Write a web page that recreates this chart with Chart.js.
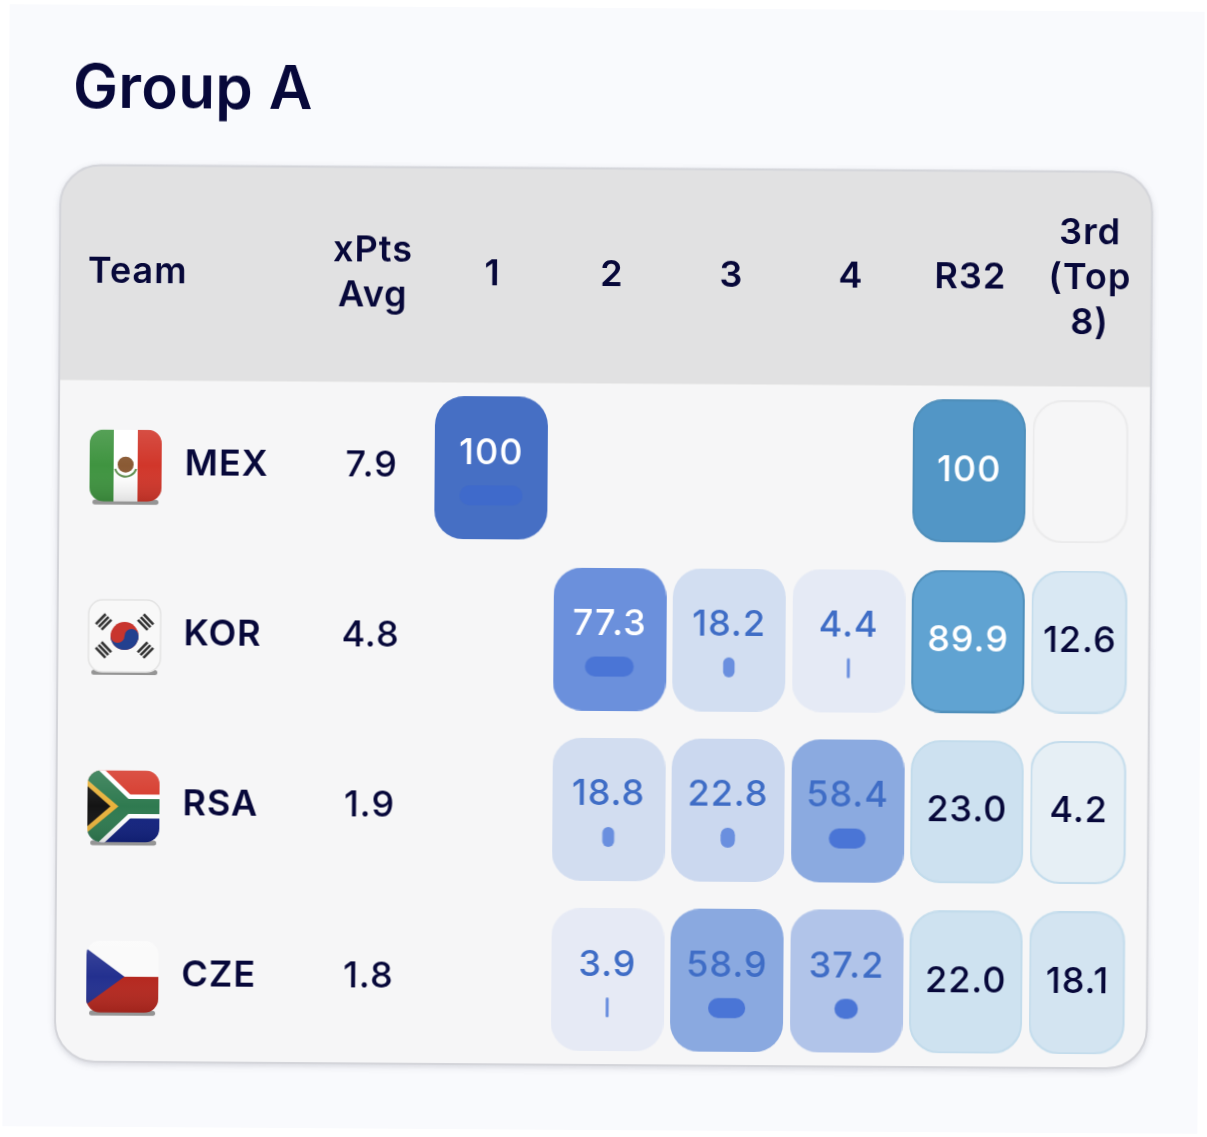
<!DOCTYPE html>
<html>
<head>
<meta charset="utf-8">
<title>Group A</title>
<script src="https://cdn.jsdelivr.net/npm/chart.js@4/dist/chart.umd.min.js"></script>
<style>
    html, body { margin: 0; padding: 0; background: #ffffff; overflow: hidden; }
    #wrap { position: relative; width: 1207px; height: 1137px; transform: rotate(0.37deg); }
    #panel { position: absolute; left: 6px; top: 8px; width: 1195px; height: 1122px; background: #f9fafd; }
    #wrap h1 {
        position: absolute; left: 70px; top: 50px; margin: 0;
        font: 600 60px/78px Inter, sans-serif; color: #07083a; letter-spacing: 0.4px;
    }
    canvas { display: block; position: absolute; left: 0; top: 0; }
</style>
</head>
<body>
<div id="wrap">
    <div id="panel"></div>
    <canvas id="groupChart" width="1207" height="1137"></canvas>
    <h1>Group A</h1>
</div>
<script>
const teams = ['MEX', 'KOR', 'RSA', 'CZE'];
const columns = ['xPts Avg', '1', '2', '3', '4', 'R32', '3rd (Top 8)'];
const headerLines = [['xPts', 'Avg'], ['1'], ['2'], ['3'], ['4'], ['R32'], ['3rd', '(Top', '8)']];

const xPtsAvg = [7.9, 4.8, 1.9, 1.8];
const place1 = [100, null, null, null];
const place2 = [null, 77.3, 18.8, 3.9];
const place3 = [null, 18.2, 22.8, 58.9];
const place4 = [null, 4.4, 58.4, 37.2];
const r32 = [100, 89.9, 23.0, 22.0];
const thirdTop8 = [null, 12.6, 4.2, 18.1];

const FONT = 'Inter, sans-serif';
const DARK = '#07083a';
const STAGE_TEXT = '#3f6dc6';

const stageStops = [[0, '#e8ebf6'], [4, '#e6eaf5'], [20, '#d0dcf0'], [37, '#b1c4e9'], [59, '#8aa9e0'], [77, '#6b90dc'], [100, '#466fc4']];
const advanceStops = [[0, '#e8eff5'], [4, '#e6eff5'], [12.6, '#d9e8f3'], [23, '#cde1f0'], [90, '#60a3d2'], [100, '#5296c6']];

function hexToRgb(hex) {
    return [1, 3, 5].map(i => parseInt(hex.slice(i, i + 2), 16));
}

function colorFor(value, stops) {
    for (let i = 1; i < stops.length; i++) {
        if (value <= stops[i][0]) {
            const t = (value - stops[i - 1][0]) / (stops[i][0] - stops[i - 1][0]);
            const a = hexToRgb(stops[i - 1][1]);
            const b = hexToRgb(stops[i][1]);
            return `rgb(${a.map((c, k) => Math.round(c + (b[k] - c) * t)).join(',')})`;
        }
    }
    return stops[stops.length - 1][1];
}

function pointsFor(col, values) {
    const out = [];
    values.forEach((v, i) => out.push({ x: col, y: teams[i], v: v }));
    return out;
}

// cell picture used as the point style, one per value
function stageSprite(raw) {
    const c = document.createElement('canvas');
    c.width = 113;
    c.height = 143;
    if (raw.v === null) return c;
    const g = c.getContext('2d');
    g.fillStyle = colorFor(raw.v, stageStops);
    g.beginPath();
    g.roundRect(0, 0, 113, 143, 29);
    g.fill();
    const w = Math.max(raw.v * 0.63, 3);
    g.fillStyle = raw.v >= 100 ? '#3f6acb' : raw.v < 25 ? '#6a8fdf' : '#4a75d6';
    g.beginPath();
    g.roundRect(56.5 - w / 2, 89, w, 20, Math.min(w / 2, 10));
    g.fill();
    return c;
}

function advanceSprite(raw) {
    const c = document.createElement('canvas');
    c.width = 113;
    c.height = 143;
    const g = c.getContext('2d');
    const w = raw.x === 'R32' ? 113 : 96;
    g.beginPath();
    g.roundRect(1, 1, w - 2, 141, 29);
    if (raw.v === null) {
        g.fillStyle = '#f6f6f7';
        g.strokeStyle = '#ebebec';
    } else {
        g.fillStyle = colorFor(raw.v, advanceStops);
        g.strokeStyle = raw.v > 50 ? '#4f8fbb' : '#c3dcec';
    }
    g.lineWidth = 2;
    g.fill();
    g.stroke();
    return c;
}

function drawFlag(ctx, team, cx, cy) {
    const s = 36;
    ctx.save();
    ctx.fillStyle = 'rgba(70,70,70,0.55)';
    ctx.beginPath();
    ctx.roundRect(cx - s + 3, cy + s - 2, s * 2 - 6, 5, 2.5);
    ctx.fill();
    ctx.beginPath();
    ctx.roundRect(cx - s, cy - s, s * 2, s * 2, 14);
    ctx.save();
    ctx.clip();
    ctx.translate(cx, cy);
    const rect = (col, x, y, w, h) => { ctx.fillStyle = col; ctx.fillRect(x, y, w, h); };
    if (team === 'MEX') {
        rect('#3f9440', -s, -s, 24, 72);
        rect('#ffffff', -12, -s, 24, 72);
        rect('#d1362a', 12, -s, 24, 72);
        ctx.fillStyle = '#8a5a34';
        ctx.beginPath(); ctx.arc(0, -1, 8, 0, Math.PI * 2); ctx.fill();
        ctx.strokeStyle = '#5f8f4f';
        ctx.lineWidth = 2;
        ctx.beginPath(); ctx.arc(0, 0, 11, 0.3, Math.PI - 0.3); ctx.stroke();
    } else if (team === 'KOR') {
        rect('#f8f8f8', -s, -s, 72, 72);
        ctx.fillStyle = '#c8352e';
        ctx.beginPath(); ctx.arc(0, 0, 14, 0, Math.PI * 2); ctx.fill();
        ctx.fillStyle = '#23408f';
        ctx.beginPath(); ctx.arc(0, 0, 14, 0, Math.PI); ctx.fill();
        ctx.fillStyle = '#c8352e';
        ctx.beginPath(); ctx.arc(-7, 0, 7, 0, Math.PI * 2); ctx.fill();
        ctx.fillStyle = '#23408f';
        ctx.beginPath(); ctx.arc(7, 0, 7, 0, Math.PI * 2); ctx.fill();
        ctx.fillStyle = '#333';
        [[-21, -14, -0.8], [21, -14, 0.8], [-21, 14, 0.8], [21, 14, -0.8]].forEach(t => {
            ctx.save();
            ctx.translate(t[0], t[1]);
            ctx.rotate(t[2]);
            for (let i = -1; i <= 1; i++) ctx.fillRect(-7, i * 4 - 1.3, 14, 2.6);
            ctx.restore();
        });
    } else if (team === 'RSA') {
        rect('#d63a2c', -s, -s, 72, 36);
        rect('#12227f', -s, 0, 72, 36);
        const y = (col, width) => {
            ctx.strokeStyle = col;
            ctx.lineWidth = width;
            ctx.beginPath();
            ctx.moveTo(-s - 4, -s - 4);
            ctx.lineTo(2, 0);
            ctx.lineTo(-s - 4, s + 4);
            ctx.moveTo(2, 0);
            ctx.lineTo(s, 0);
            ctx.stroke();
        };
        y('#ffffff', 24);
        y('#2f7a50', 15);
        ctx.fillStyle = '#e8b23c';
        ctx.beginPath(); ctx.moveTo(-s, -26); ctx.lineTo(-5, 0); ctx.lineTo(-s, 26); ctx.fill();
        ctx.fillStyle = '#141414';
        ctx.beginPath(); ctx.moveTo(-s, -20); ctx.lineTo(-13, 0); ctx.lineTo(-s, 20); ctx.fill();
    } else {
        rect('#fafafa', -s, -s, 72, 36);
        rect('#b5281f', -s, 0, 72, 36);
        ctx.fillStyle = '#23308f';
        ctx.beginPath(); ctx.moveTo(-s, -s + 8); ctx.lineTo(2, 0); ctx.lineTo(-s, s - 8); ctx.fill();
    }
    if (team !== 'KOR') {
        const gloss = ctx.createLinearGradient(0, -s, 0, s);
        gloss.addColorStop(0, 'rgba(255,255,255,0.12)');
        gloss.addColorStop(0.5, 'rgba(255,255,255,0)');
        gloss.addColorStop(1, 'rgba(0,0,0,0.12)');
        ctx.fillStyle = gloss;
        ctx.fillRect(-s, -s, 72, 72);
    }
    ctx.restore();
    if (team === 'KOR') {
        ctx.strokeStyle = '#e3e3e3';
        ctx.lineWidth = 1.5;
        ctx.beginPath();
        ctx.roundRect(cx - s, cy - s, s * 2, s * 2, 14);
        ctx.stroke();
    }
    ctx.restore();
}

const tableFrame = {
    id: 'tableFrame',
    beforeDatasetsDraw(chart) {
        const { ctx, chartArea } = chart;
        const left = 58;
        const w = chartArea.right + 2 - left;
        const top = 168.5;
        const h = chartArea.bottom - top;
        ctx.save();
        ctx.beginPath();
        ctx.roundRect(left, top, w, h, 40);
        ctx.shadowColor = 'rgba(90,95,110,0.28)';
        ctx.shadowBlur = 7;
        ctx.shadowOffsetY = 2;
        ctx.fillStyle = '#f6f6f7';
        ctx.fill();
        ctx.shadowColor = 'transparent';
        ctx.save();
        ctx.clip();
        ctx.fillStyle = '#e1e1e2';
        ctx.fillRect(left, top, w, chartArea.top - top);
        ctx.restore();
        ctx.strokeStyle = '#d4d5da';
        ctx.lineWidth = 2;
        ctx.beginPath();
        ctx.roundRect(left, top, w, h, 40);
        ctx.stroke();
        ctx.restore();
    }
};

const tableText = {
    id: 'tableText',
    afterDatasetsDraw(chart) {
        const { ctx } = chart;
        const x = chart.scales.x;
        const y = chart.scales.y;
        const headerY = 275;
        const lastShift = -7.75;
        const textFont = `500 36px ${FONT}`;
        const labelFont = `600 36px ${FONT}`;
        ctx.save();
        ctx.textBaseline = 'middle';
        ctx.textAlign = 'left';
        ctx.letterSpacing = '1px';
        ctx.fillStyle = DARK;
        ctx.font = labelFont;
        ctx.fillText('Team', 86, headerY);

        ctx.textAlign = 'center';
        columns.forEach((col, c) => {
            const lines = headerLines[c];
            const cx = x.getPixelForValue(col);
            lines.forEach((line, i) => {
                ctx.fillText(line, cx, headerY + (i - (lines.length - 1) / 2) * 45);
            });
        });

        teams.forEach((team, r) => {
            const cy = y.getPixelForValue(team);
            drawFlag(ctx, team, 125, cy);
            ctx.textAlign = 'left';
            ctx.fillStyle = DARK;
            ctx.font = labelFont;
            ctx.fillText(team, 184, cy - 2);
            ctx.textAlign = 'center';
            ctx.font = textFont;
            ctx.fillText(xPtsAvg[r].toFixed(1), x.getPixelForValue('xPts Avg'), cy - 2);
        });

        chart.data.datasets.forEach(ds => {
            ds.data.forEach(p => {
                if (p.v === null) return;
                const isStage = ds.label === 'stage';
                const cx = x.getPixelForValue(p.x) + (p.x === '3rd (Top 8)' ? lastShift : 0);
                const cy = y.getPixelForValue(p.y) + (isStage ? -15 : -1);
                ctx.font = textFont;
                ctx.fillStyle = p.v >= 70 ? '#ffffff' : isStage ? STAGE_TEXT : DARK;
                ctx.fillText(p.v === 100 ? '100' : p.v.toFixed(1), cx, cy);
            });
        });
        ctx.restore();
    }
};

new Chart(document.getElementById('groupChart').getContext('2d'), {
    type: 'scatter',
    data: {
        datasets: [
            {
                label: 'stage',
                data: [
                    ...pointsFor('1', place1), ...pointsFor('2', place2),
                    ...pointsFor('3', place3), ...pointsFor('4', place4)
                ],
                pointStyle: c => (c.raw ? stageSprite(c.raw) : 'circle'),
                clip: false
            },
            {
                label: 'advance',
                data: [...pointsFor('R32', r32), ...pointsFor('3rd (Top 8)', thirdTop8)],
                pointStyle: c => (c.raw ? advanceSprite(c.raw) : 'circle'),
                clip: false
            }
        ]
    },
    options: {
        responsive: false,
        animation: false,
        devicePixelRatio: 1,
        layout: { padding: { left: 311.25, right: 59.25, top: 383.5, bottom: 72 } },
        scales: {
            x: { type: 'category', labels: columns, offset: true, display: false },
            y: { type: 'category', labels: teams, offset: true, display: false }
        },
        plugins: { legend: { display: false }, tooltip: { enabled: false } }
    },
    plugins: [tableFrame, tableText]
});
</script>
</body>
</html>
